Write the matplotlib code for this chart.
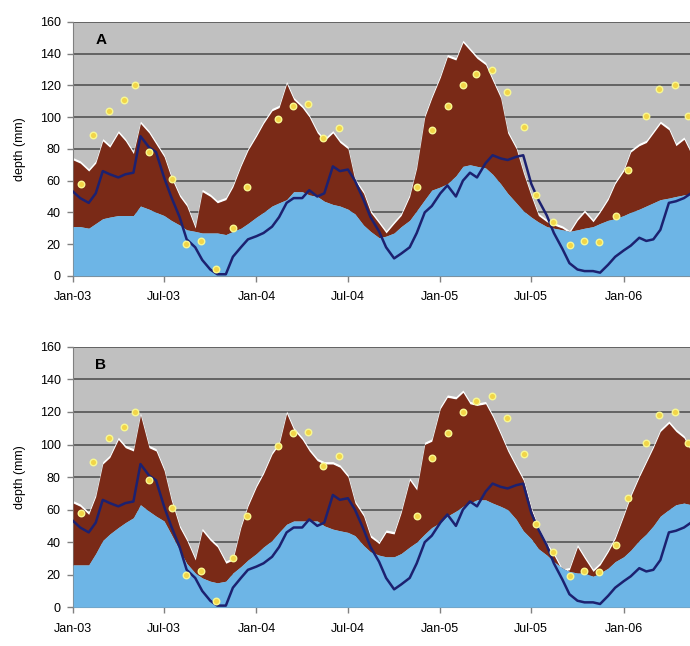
import matplotlib
matplotlib.use("Agg")
import matplotlib.pyplot as plt
import matplotlib.dates as mdates
import numpy as np
import pandas as pd

plt.rcParams['font.family'] = ['Liberation Sans', 'DejaVu Sans']

# semi-monthly dates (1st and 15th), Jan 2003 .. May 2006
dates = pd.date_range('2003-01-01', '2006-05-15', freq='SMS')

# panel A: lower (blue) layer and top of the brown layer (mm)
base_a = [31, 31, 30, 33, 36, 37, 38, 38, 38, 44, 42, 40, 38, 35, 32, 29, 28, 27, 27, 27,
          26, 28, 30, 33, 37, 40, 44, 46, 48, 53, 53, 51, 50, 47, 45, 44, 42, 39, 32, 28,
          24, 25, 27, 31, 35, 41, 48, 54, 56, 58, 63, 69, 70, 69, 68, 64, 58, 52, 46, 41,
          37, 34, 31, 30, 29, 28, 29, 30, 31, 33, 35, 36, 38, 40, 42, 44, 46, 48, 49, 50,
          51, 51]
total_a = [73, 71, 66, 71, 85, 81, 90, 85, 77, 96, 90, 83, 75, 62, 50, 44, 30, 53, 50, 46,
           48, 56, 69, 79, 88, 96, 104, 106, 121, 111, 106, 100, 90, 85, 90, 84, 80, 60, 52, 40,
           33, 27, 33, 38, 50, 68, 100, 112, 125, 138, 136, 147, 142, 137, 133, 123, 112, 90, 80, 65,
           50, 38, 34, 32, 30, 27, 35, 40, 34, 40, 48, 58, 66, 78, 82, 84, 90, 96, 92, 82,
           86, 77]

# panel B
base_b = [26, 26, 26, 33, 41, 45, 49, 52, 55, 63, 59, 56, 53, 45, 35, 27, 21, 18, 16, 15,
          16, 21, 25, 29, 33, 37, 41, 46, 51, 53, 53, 53, 53, 50, 48, 47, 46, 44, 38, 34,
          32, 31, 31, 33, 37, 40, 45, 49, 52, 56, 59, 62, 64, 66, 66, 64, 62, 60, 54, 47,
          42, 36, 32, 28, 24, 22, 21, 21, 19, 21, 24, 28, 31, 35, 41, 45, 50, 56, 60, 63,
          64, 63]
total_b = [64, 62, 57, 68, 88, 92, 103, 98, 96, 118, 98, 96, 84, 66, 49, 41, 29, 47, 41, 37,
           27, 29, 49, 62, 74, 82, 94, 100, 119, 109, 103, 96, 90, 88, 88, 86, 80, 64, 56, 43,
           39, 46, 45, 58, 78, 72, 100, 102, 122, 129, 128, 132, 125, 124, 125, 117, 106, 96, 86, 78,
           60, 48, 38, 32, 22, 23, 37, 30, 22, 26, 34, 42, 56, 68, 80, 89, 98, 108, 113, 108,
           104, 96]

# observed depth (same in both panels)
observed = [53, 49, 46, 52, 66, 64, 62, 64, 65, 88, 81, 78, 62, 50, 37, 23, 18, 10, 4, 1,
            1, 12, 18, 23, 25, 27, 31, 37, 46, 49, 49, 54, 50, 52, 69, 66, 67, 60, 48, 37,
            28, 18, 11, 14, 18, 27, 40, 44, 52, 57, 50, 60, 65, 62, 71, 76, 74, 73, 75, 76,
            58, 48, 38, 27, 17, 8, 4, 3, 3, 2, 7, 12, 16, 19, 24, 22, 23, 29, 46, 47,
            49, 52]

# point measurements
dot_dates = pd.to_datetime([
    '2003-01-16', '2003-02-10', '2003-03-13', '2003-04-13', '2003-05-04', '2003-06-01',
    '2003-07-16', '2003-08-13', '2003-09-13', '2003-10-13', '2003-11-16', '2003-12-13',
    '2004-02-13', '2004-03-13', '2004-04-13', '2004-05-13', '2004-06-13', '2004-11-16',
    '2004-12-16', '2005-01-16', '2005-02-15', '2005-03-13', '2005-04-13', '2005-05-13',
    '2005-06-16', '2005-07-10', '2005-08-13', '2005-09-16', '2005-10-13', '2005-11-13',
    '2005-12-16', '2006-01-10', '2006-02-15', '2006-03-13', '2006-04-13', '2006-05-10'])
dot_vals = [58, 89, 104, 111, 120, 78, 61, 20, 22, 4, 30, 56,
            99, 107, 108, 87, 93, 56, 92, 107, 120, 127, 130, 116,
            94, 51, 34, 19.5, 22, 21.5, 38, 67, 101, 118, 120, 101]

BLUE = '#6db5e6'
BROWN = '#7a2a17'
NAVY = '#1c2170'
BG = '#c0c0c0'

fig = plt.figure(figsize=(6.9, 6.46), dpi=100)
ax_a = fig.add_axes([0.106, 0.573, 0.894, 0.393])
ax_b = fig.add_axes([0.106, 0.060, 0.894, 0.403])

for ax, base, total, label in [(ax_a, base_a, total_a, 'A'), (ax_b, base_b, total_b, 'B')]:
    base = np.array(base)
    total = np.array(total)
    ax.set_facecolor(BG)
    for v in range(20, 161, 20):
        ax.axhline(v, color='#4a4a4a', lw=1.1, zorder=1)
    ax.fill_between(dates, total, total + 1.5, color='white', lw=0, zorder=2)
    ax.fill_between(dates, base, total, color=BROWN, lw=0, zorder=3)
    ax.fill_between(dates, 0, base, color=BLUE, lw=0, zorder=4)
    ax.plot(dates, observed, color=NAVY, lw=1.8, zorder=5)
    ax.scatter(dot_dates, dot_vals, s=22, color='#f2d548', edgecolor='#f8f890',
               linewidth=1.0, zorder=6)

    ax.set_ylim(0, 160)
    ax.set_yticks(range(0, 161, 20))
    ax.set_xlim(pd.Timestamp('2003-01-01'), pd.Timestamp('2006-05-13'))
    ax.xaxis.set_major_locator(mdates.MonthLocator(bymonth=[1, 7]))
    ax.xaxis.set_major_formatter(mdates.DateFormatter('%b-%y'))
    ax.tick_params(axis='both', labelsize=9, color='#808080', length=4, width=1)
    ax.tick_params(axis='x', pad=7)
    ax.tick_params(axis='y', pad=5)
    for s in ['top', 'right']:
        ax.spines[s].set_visible(False)
    for s in ['left', 'bottom']:
        ax.spines[s].set_color('#808080')
    ax.set_ylabel('depth (mm)', fontsize=9, labelpad=10)
    ax.text(0.045, 0.93, label, transform=ax.transAxes, fontsize=11,
            fontweight='bold', ha='center', va='center', zorder=7)

fig.savefig('out.png', dpi=100)
